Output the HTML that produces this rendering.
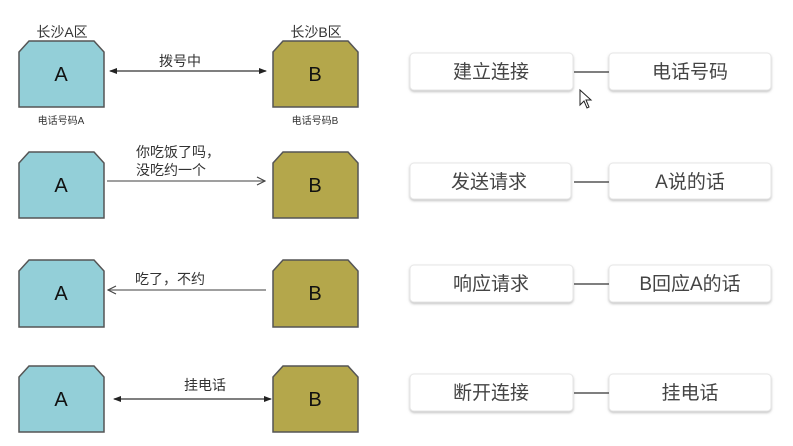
<!DOCTYPE html>
<html><head><meta charset="utf-8"><style>
html,body{margin:0;padding:0;background:#fff;width:793px;height:446px;overflow:hidden}
text{font-family:"Liberation Sans","Noto Sans CJK SC",sans-serif}
</style></head><body>
<svg width="793" height="446" viewBox="0 0 793 446" xmlns="http://www.w3.org/2000/svg">
<defs>
<marker id="tri" markerWidth="8" markerHeight="8" refX="7" refY="4" orient="auto-start-reverse" markerUnits="userSpaceOnUse"><path d="M0,1 L8,4 L0,7 z" fill="#222"/></marker>
<marker id="open" markerWidth="10" markerHeight="10" refX="9" refY="5" orient="auto-start-reverse" markerUnits="userSpaceOnUse"><path d="M1,1 L9,5 L1,9" fill="none" stroke="#444" stroke-width="1.2"/></marker>
<filter id="sh" x="-5%" y="-10%" width="110%" height="130%"><feDropShadow dx="0" dy="1.5" stdDeviation="1.2" flood-color="#999" flood-opacity="0.6"/></filter>
</defs>
<g stroke="#555" stroke-width="1.5">
<!-- A boxes -->
<path d="M19,52 L29,41 L94,41 L104,52 L104,107 L19,107 Z" fill="#93cfd8"/>
<path d="M19,163 L29,152 L94,152 L104,163 L104,218 L19,218 Z" fill="#93cfd8"/>
<path d="M19,271 L29,260 L94,260 L104,271 L104,327 L19,327 Z" fill="#93cfd8"/>
<path d="M19,377 L29,366 L94,366 L104,377 L104,432 L19,432 Z" fill="#93cfd8"/>
<!-- B boxes -->
<path d="M273,52 L283,41 L348,41 L358,52 L358,107 L273,107 Z" fill="#b4a74b"/>
<path d="M273,163 L283,152 L348,152 L358,163 L358,218 L273,218 Z" fill="#b4a74b"/>
<path d="M273,271 L283,260 L348,260 L358,271 L358,327 L273,327 Z" fill="#b4a74b"/>
<path d="M273,377 L283,366 L348,366 L358,377 L358,432 L273,432 Z" fill="#b4a74b"/>
</g>
<g font-size="20" text-anchor="middle" fill="#111">
<text x="61" y="81">A</text><text x="315" y="81">B</text>
<text x="61" y="192">A</text><text x="315" y="192">B</text>
<text x="61" y="300">A</text><text x="315" y="300">B</text>
<text x="61" y="406">A</text><text x="315" y="406">B</text>
</g>
<g font-size="14" fill="#333" text-anchor="middle">
<text x="62" y="37">长沙A区</text><text x="316" y="37">长沙B区</text>
<text x="180" y="66">拨号中</text>
<text x="205" y="390">挂电话</text>
</g>
<g font-size="10" fill="#333" text-anchor="middle">
<text x="61" y="124">电话号码A</text><text x="315" y="124">电话号码B</text>
</g>
<g font-size="14" fill="#333">
<text x="136" y="157">你吃饭了吗，</text>
<text x="136" y="175">没吃约一个</text>
<text x="135" y="284">吃了，不约</text>
</g>
<g stroke="#333" stroke-width="1.3">
<line x1="110" y1="71" x2="266" y2="71" marker-start="url(#tri)" marker-end="url(#tri)"/>
<line x1="107" y1="181" x2="265" y2="181" stroke="#666" marker-end="url(#open)"/>
<line x1="266" y1="290" x2="108" y2="290" stroke="#666" marker-end="url(#open)"/>
<line x1="114" y1="399" x2="271" y2="399" marker-start="url(#tri)" marker-end="url(#tri)"/>
</g>
<!-- right side -->
<g fill="#fff" stroke="#e6e6e6" stroke-width="1" filter="url(#sh)">
<rect x="410" y="53" width="163" height="37" rx="4"/><rect x="609" y="53" width="162" height="37" rx="4"/>
<rect x="410" y="163" width="161" height="36" rx="4"/><rect x="609" y="163" width="162" height="36" rx="4"/>
<rect x="410" y="265" width="163" height="37" rx="4"/><rect x="609" y="265" width="162" height="37" rx="4"/>
<rect x="410" y="374" width="163" height="37" rx="4"/><rect x="609" y="374" width="162" height="37" rx="4"/>
</g>
<g stroke="#555" stroke-width="1.5">
<line x1="574" y1="72" x2="609" y2="72"/><line x1="574" y1="182" x2="609" y2="182"/>
<line x1="574" y1="284" x2="609" y2="284"/><line x1="574" y1="393" x2="609" y2="393"/>
</g>
<g font-size="19" fill="#444" text-anchor="middle">
<text x="491" y="78">建立连接</text><text x="690" y="78">电话号码</text>
<text x="489" y="188">发送请求</text><text x="690" y="188">A说的话</text>
<text x="491" y="290">响应请求</text><text x="690" y="290">B回应A的话</text>
<text x="491" y="399">断开连接</text><text x="690" y="399">挂电话</text>
</g>
<path d="M580,90 L580,105 L584,101 L587,108 L589,107 L586,100 L591,100 Z" fill="#fff" stroke="#222" stroke-width="1"/>
</svg>
</body></html>
